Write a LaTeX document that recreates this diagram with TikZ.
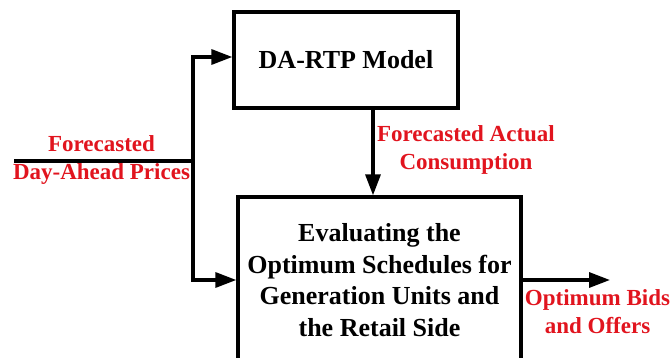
\documentclass[tikz,border=0pt]{standalone}
\usepackage{fontspec}
\setmainfont{Liberation Serif}
\usetikzlibrary{arrows.meta}
\definecolor{lblred}{RGB}{225,20,30}
\tikzset{
  boxstyle/.style={draw=black, line width=3.3pt, rectangle, inner sep=0pt,
    font=\bfseries\fontsize{26}{31.7}\selectfont, align=center, text=black},
  lbl/.style={font=\bfseries\fontsize{23}{28}\selectfont, text=lblred, align=center, inner sep=0pt},
  wire/.style={line width=3.3pt, draw=black},
  arr/.style={wire, -{Triangle[length=21pt,width=15pt]}}
}
\begin{document}
\begin{tikzpicture}[x=1pt,y=-1pt]
\useasboundingbox (0,0) rectangle (672,358);
\clip (0,0) rectangle (672,358);
\node[boxstyle, minimum width=224pt, minimum height=96pt] (da) at (346,60) {DA-RTP Model};
\node[boxstyle, minimum width=283pt, minimum height=166pt] (ev) at (379.5,280)
  {Evaluating the\\Optimum Schedules for\\Generation Units and\\the Retail Side};
\coordinate (in) at (14,161);
\coordinate (j) at (193,161);
\coordinate (dx) at (373,0);
\coordinate (out) at (610,280);
\draw[wire] (in) -- (j);
\draw[arr] (j) |- ([yshift=3pt]da.west);
\draw[arr] (j) |- (ev.west);
\draw[arr] (da.south -| dx) -- (ev.north -| dx);
\draw[arr] (ev.east) -- (out);
\node[lbl] (l1) at (101.5,160.5) {Forecasted\\Day-Ahead Prices};
\node[lbl] (l2) at (466,150) {Forecasted Actual\\Consumption};
\node[lbl] (l3) at (597.5,311.5) {Optimum Bids\\and Offers};
\end{tikzpicture}
\end{document}
